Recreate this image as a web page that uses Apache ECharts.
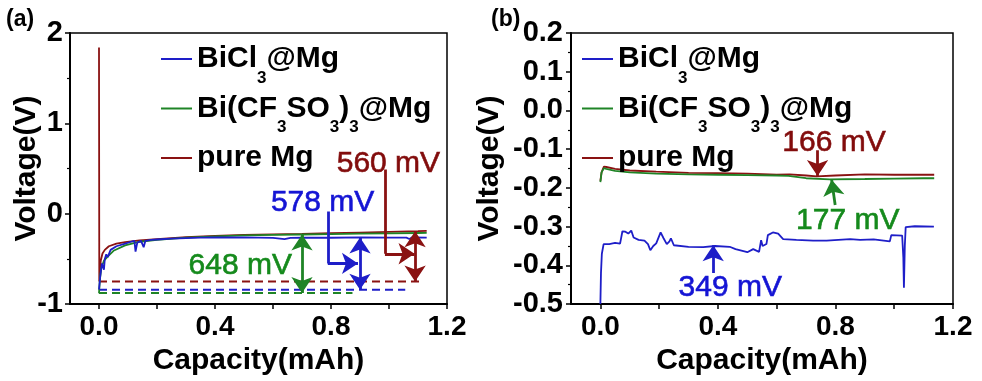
<!DOCTYPE html>
<html>
<head>
<meta charset="utf-8">
<script src="https://cdn.jsdelivr.net/npm/echarts@6/dist/echarts.min.js"></script>
<style>
html,body{margin:0;padding:0;background:#fff;}
#chart{width:982px;height:381px;}
</style>
</head>
<body>
<div id="chart"></div>
<script>
// ---------- data ----------
const seriesNames = ['BiCl3@Mg', 'Bi(CF3SO3)3@Mg', 'pure Mg'];
const xTicks = [0, 0.2, 0.4, 0.6, 0.8, 1.0, 1.2];
const xLabels = [0, 0.4, 0.8, 1.2];

// panel (a)
const capA_blue = [0, 0.004, 0.01, 0.017, 0.02, 0.025, 0.03, 0.04, 0.06, 0.09, 0.11, 0.122, 0.126, 0.132, 0.145, 0.154, 0.16, 0.18, 0.2, 0.25, 0.3, 0.35, 0.4, 0.45, 0.5, 0.55, 0.6, 0.64, 0.66, 0.7, 0.8, 0.9, 1.0, 1.06, 1.07, 1.08, 1.13];
const volA_blue = [-0.84, -0.7, -0.55, -0.62, -0.5, -0.45, -0.48, -0.4, -0.36, -0.33, -0.31, -0.30, -0.42, -0.32, -0.30, -0.37, -0.30, -0.29, -0.285, -0.275, -0.27, -0.265, -0.262, -0.263, -0.262, -0.265, -0.268, -0.28, -0.268, -0.265, -0.266, -0.262, -0.264, -0.265, -0.28, -0.262, -0.264];
const capA_green = [0, 0.003, 0.008, 0.017, 0.034, 0.05, 0.09, 0.14, 0.2, 0.3, 0.4, 0.5, 0.6, 0.7, 0.8, 0.9, 1.0, 1.1, 1.13];
const volA_green = [-0.88, -0.73, -0.6, -0.52, -0.46, -0.41, -0.35, -0.31, -0.29, -0.265, -0.25, -0.24, -0.235, -0.23, -0.225, -0.22, -0.217, -0.213, -0.212];
const capA_red = [0, 0.001, 0.006, 0.012, 0.02, 0.034, 0.06, 0.09, 0.14, 0.2, 0.3, 0.4, 0.5, 0.6, 0.7, 0.8, 0.9, 1.0, 1.1, 1.13];
const volA_red = [1.84, -0.75, -0.52, -0.44, -0.40, -0.36, -0.33, -0.315, -0.295, -0.28, -0.26, -0.245, -0.235, -0.228, -0.222, -0.215, -0.208, -0.2, -0.193, -0.19];
// dashed reference levels (a): [level, end capacity]
const baseA_red = [-0.75, 1.104];
const baseA_blue = [-0.84, 1.056];
const baseA_green = [-0.878, 0.874];

// panel (b)
const capB_blue = [0, 0.002, 0.005, 0.011, 0.03, 0.05, 0.067, 0.075, 0.085, 0.095, 0.105, 0.113, 0.13, 0.15, 0.162, 0.17, 0.18, 0.19, 0.205, 0.215, 0.226, 0.235, 0.24, 0.25, 0.3, 0.35, 0.39, 0.44, 0.46, 0.48, 0.5, 0.52, 0.54, 0.547, 0.552, 0.565, 0.57, 0.587, 0.605, 0.622, 0.667, 0.724, 0.77, 0.85, 0.884, 0.93, 0.985, 0.99, 1.027, 1.031, 1.033, 1.036, 1.039, 1.07, 1.135];
const volB_blue = [-0.5, -0.42, -0.37, -0.345, -0.345, -0.342, -0.344, -0.312, -0.313, -0.318, -0.31, -0.328, -0.334, -0.336, -0.345, -0.361, -0.35, -0.343, -0.315, -0.33, -0.345, -0.338, -0.33, -0.348, -0.352, -0.353, -0.35, -0.352, -0.358, -0.362, -0.366, -0.358, -0.365, -0.335, -0.35, -0.345, -0.322, -0.315, -0.318, -0.332, -0.334, -0.336, -0.336, -0.332, -0.334, -0.333, -0.338, -0.322, -0.323, -0.38, -0.458, -0.35, -0.301, -0.299, -0.3];
const capB_green = [0, 0.004, 0.012, 0.02, 0.05, 0.1, 0.19, 0.3, 0.4, 0.5, 0.6, 0.64, 0.645, 0.7, 0.78, 0.9, 1.0, 1.1, 1.136];
const volB_green = [-0.185, -0.16, -0.149, -0.151, -0.156, -0.16, -0.163, -0.165, -0.166, -0.167, -0.168, -0.169, -0.172, -0.175, -0.178, -0.177, -0.176, -0.175, -0.175];
const capB_red = [0, 0.004, 0.012, 0.02, 0.05, 0.1, 0.19, 0.3, 0.4, 0.5, 0.6, 0.644, 0.7, 0.736, 0.8, 0.9, 1.0, 1.1, 1.136];
const volB_red = [-0.182, -0.16, -0.145, -0.146, -0.151, -0.155, -0.158, -0.161, -0.162, -0.163, -0.166, -0.165, -0.168, -0.17, -0.168, -0.165, -0.166, -0.166, -0.166];

// annotations: arrows [[x1,y1],[x2,y2]] and labels [x, y, text, colour]
const arrowsA_green = [[[0.7, -0.23], [0.7, -0.878]]];
const arrowsA_blue = [[[0.9, -0.262], [0.9, -0.84]]];
const connA_blue = [[[0.789, 0.024], [0.789, -0.55]]];
const pointA_blue = [[[0.789, -0.55], [0.893, -0.55]]];
const arrowsA_red = [[[1.09, -0.193], [1.09, -0.75]]];
const connA_red = [[[0.986, 0.49], [0.986, -0.443]]];
const pointA_red = [[[0.986, -0.443], [1.088, -0.443]]];
const labelsA = [[0.487, -0.52, '648 mV', 'green'], [0.771, 0.178, '578 mV', 'blue'], [0.998, 0.609, '560 mV', 'red']];

const arrowsB_red = [[[0.739, -0.1025], [0.739, -0.169]]];
const arrowsB_green = [[[0.799, -0.244], [0.787, -0.179]]];
const arrowsB_blue = [[[0.384, -0.42], [0.384, -0.348]]];
const labelsB = [[0.795, -0.071, '166 mV', 'red'], [0.842, -0.271, '177 mV', 'green'], [0.442, -0.446, '349 mV', 'blue']];

// ---------- styling ----------
const C = { blue: '#1e1ec8', green: '#1f8426', red: '#8a1212' };
const TXT = { blue: '#1414d4', green: '#158a1c', red: '#820c0c' };
const FONT = "'Liberation Sans', Arial, sans-serif";

function zip(xs, ys) { return xs.map((x, i) => [x, ys[i]]); }

const richLegend = {
  n: { fontSize: 30, fontWeight: 'bold', fontFamily: FONT, color: '#000', lineHeight: 55 },
  s: { fontSize: 17, fontWeight: 'bold', fontFamily: FONT, color: '#000', lineHeight: 17, verticalAlign: 'bottom' }
};
function legendFmt(name) {
  if (name === 'BiCl3@Mg') return '{n|BiCl}{s|3}{n|@Mg}';
  if (name === 'Bi(CF3SO3)3@Mg') return '{n|Bi(CF}{s|3}{n|SO}{s|3}{n|)}{s|3}{n|@Mg}';
  return '{n|' + name + '}';
}

function xAxisCfg(gi) {
  return {
    type: 'value', gridIndex: gi, min: -0.1, max: 1.2,
    name: 'Capacity(mAh)', nameLocation: 'middle', nameGap: 31,
    nameTextStyle: { fontSize: 30, fontWeight: 'bold', fontFamily: FONT, color: '#000' },
    axisLine: { show: true, onZero: false, lineStyle: { color: '#000', width: 2 } },
    axisTick: { show: true, length: 5, inside: false, customValues: xTicks, lineStyle: { color: '#000', width: 1.5 } },
    axisLabel: { show: true, customValues: xLabels, margin: 9, fontSize: 28, fontWeight: 'bold', fontFamily: FONT, color: '#000',
      formatter: v => v.toFixed(1) },
    splitLine: { show: false }
  };
}

function lineSeries(name, gi, data, color) {
  return { type: 'line', name, xAxisIndex: gi, yAxisIndex: gi, data, showSymbol: false, symbol: 'none',
    lineStyle: { color, width: 1.8 }, itemStyle: { color }, animation: false, silent: true, z: 3 };
}
function dashSeries(gi, base, color) {
  return { type: 'line', name: 'base', xAxisIndex: gi, yAxisIndex: gi, data: [[0, base[0]], [base[1], base[0]]],
    showSymbol: false, symbol: 'none', lineStyle: { color, width: 2, type: [8, 5] }, animation: false, silent: true, z: 2 };
}
function arrowSeries(gi, segs, color, symbols) {
  return { type: 'lines', coordinateSystem: 'cartesian2d', xAxisIndex: gi, yAxisIndex: gi,
    data: segs.map(s => ({ coords: s })), symbol: symbols, symbolSize: 16,
    lineStyle: { color, width: 2.8, opacity: 1, curveness: 0 }, animation: false, silent: true, z: 5 };
}
function labelSeries(gi, labels) {
  return { type: 'scatter', xAxisIndex: gi, yAxisIndex: gi, symbolSize: 1,
    itemStyle: { color: 'rgba(0,0,0,0)', opacity: 1 }, animation: false, silent: true, z: 6,
    data: labels.map(l => ({ value: [l[0], l[1]], name: l[2],
      label: { color: TXT[l[3]], textBorderColor: TXT[l[3]], textBorderWidth: 0.6, opacity: 1 } })),
    label: { show: true, position: 'inside', offset: [0, 5], formatter: p => p.name, fontSize: 30, fontFamily: FONT } };
}

const chart = echarts.init(document.getElementById('chart'), null, { renderer: 'canvas' });
chart.setOption({
  backgroundColor: '#fff',
  animation: false,
  title: [
    { text: '(a)', left: 1, top: 3, textStyle: { fontSize: 23, fontWeight: 'bold', fontFamily: FONT, color: '#000' } },
    { text: '(b)', left: 486, top: 3, textStyle: { fontSize: 23, fontWeight: 'bold', fontFamily: FONT, color: '#000' } }
  ],
  legend: [
    { data: seriesNames, left: 161, top: 44, orient: 'vertical', icon: 'rect', itemWidth: 31, itemHeight: 2, itemGap: 7, padding: 0,
      selectedMode: false, formatter: legendFmt, textStyle: { rich: richLegend } },
    { data: seriesNames, left: 582, top: 44, orient: 'vertical', icon: 'rect', itemWidth: 31, itemHeight: 2, itemGap: 7, padding: 0,
      selectedMode: false, formatter: legendFmt, textStyle: { rich: richLegend } }
  ],
  grid: [
    { left: 70, top: 33, width: 377, height: 279, show: true, borderColor: '#000', borderWidth: 1.5, backgroundColor: 'transparent' },
    { left: 571, top: 33, width: 382, height: 281, show: true, borderColor: '#000', borderWidth: 1.5, backgroundColor: 'transparent' }
  ],
  xAxis: [xAxisCfg(0), xAxisCfg(1)],
  yAxis: [
    { type: 'value', gridIndex: 0, min: -1, max: 2, interval: 1,
      name: 'Voltage(V)', nameLocation: 'middle', nameGap: 28, nameMoveOverlap: false,
      nameTextStyle: { fontSize: 30, fontWeight: 'bold', fontFamily: FONT, color: '#000' },
      axisLine: { show: true, onZero: false, lineStyle: { color: '#000', width: 2 } },
      axisTick: { show: true, length: 5, lineStyle: { color: '#000', width: 1.5 } },
      minorTick: { show: true, splitNumber: 2, length: 3, lineStyle: { color: '#000', width: 1.2 } },
      axisLabel: { margin: 7, fontSize: 29, fontWeight: 'bold', fontFamily: FONT, color: '#000', formatter: v => String(v) },
      splitLine: { show: false }, minorSplitLine: { show: false } },
    { type: 'value', gridIndex: 1, min: -0.5, max: 0.2, interval: 0.1,
      name: 'Voltage(V)', nameLocation: 'middle', nameGap: 66,
      nameTextStyle: { fontSize: 30, fontWeight: 'bold', fontFamily: FONT, color: '#000' },
      axisLine: { show: true, onZero: false, lineStyle: { color: '#000', width: 2 } },
      axisTick: { show: true, length: 5, lineStyle: { color: '#000', width: 1.5 } },
      minorTick: { show: true, splitNumber: 2, length: 3, lineStyle: { color: '#000', width: 1.2 } },
      axisLabel: { margin: 8, fontSize: 29, fontWeight: 'bold', fontFamily: FONT, color: '#000', formatter: v => v.toFixed(1) },
      splitLine: { show: false }, minorSplitLine: { show: false } }
  ],
  series: [
    dashSeries(0, baseA_red, C.red),
    dashSeries(0, baseA_blue, C.blue),
    dashSeries(0, baseA_green, C.green),
    lineSeries('pure Mg', 0, zip(capA_red, volA_red), C.red),
    lineSeries('Bi(CF3SO3)3@Mg', 0, zip(capA_green, volA_green), C.green),
    lineSeries('BiCl3@Mg', 0, zip(capA_blue, volA_blue), C.blue),
    arrowSeries(0, arrowsA_green, C.green, ['arrow', 'arrow']),
    arrowSeries(0, arrowsA_blue, C.blue, ['arrow', 'arrow']),
    arrowSeries(0, connA_blue, C.blue, ['none', 'none']),
    arrowSeries(0, pointA_blue, C.blue, ['none', 'arrow']),
    arrowSeries(0, arrowsA_red, C.red, ['arrow', 'arrow']),
    arrowSeries(0, connA_red, C.red, ['none', 'none']),
    arrowSeries(0, pointA_red, C.red, ['none', 'arrow']),
    labelSeries(0, labelsA),
    lineSeries('pure Mg', 1, zip(capB_red, volB_red), C.red),
    lineSeries('Bi(CF3SO3)3@Mg', 1, zip(capB_green, volB_green), C.green),
    lineSeries('BiCl3@Mg', 1, zip(capB_blue, volB_blue), C.blue),
    arrowSeries(1, arrowsB_red, C.red, ['none', 'arrow']),
    arrowSeries(1, arrowsB_green, C.green, ['none', 'arrow']),
    arrowSeries(1, arrowsB_blue, C.blue, ['none', 'arrow']),
    labelSeries(1, labelsB)
  ]
});
</script>
</body>
</html>
